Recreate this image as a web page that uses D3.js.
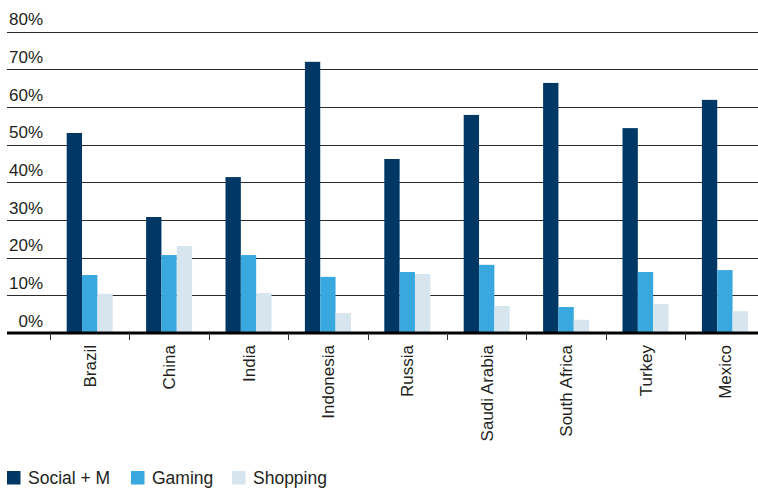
<!DOCTYPE html>
<html>
<head>
<meta charset="utf-8">
<script src="https://cdn.jsdelivr.net/npm/d3@7"></script>
<style>
  html, body { margin: 0; padding: 0; background: #fff; }
  svg { display: block; }
  text { font-family: "Liberation Sans", Arial, sans-serif; fill: #231f20; }
</style>
</head>
<body>
<svg id="chart" width="758" height="489"></svg>
<script>
const categories = ["Brazil", "China", "India", "Indonesia", "Russia", "Saudi Arabia", "South Africa", "Turkey", "Mexico"];
const seriesNames = ["Social + M", "Gaming", "Shopping"];
const socialValues = [53.1, 30.8, 41.4, 72.0, 46.2, 57.9, 66.4, 54.4, 61.9];
const gamingValues = [15.4, 20.7, 20.7, 14.9, 16.2, 18.1, 6.9, 16.2, 16.7];
const shoppingValues = [10.4, 23.1, 10.6, 5.3, 15.7, 7.2, 3.5, 7.7, 5.8];
const yTicks = [0, 10, 20, 30, 40, 50, 60, 70, 80];
const colors = ["#003865", "#38a8df", "#d7e5ef"];

const seriesValues = [socialValues, gamingValues, shoppingValues];
const data = categories.map((c, i) => ({ cat: c, vals: seriesValues.map((s, j) => ({ key: seriesNames[j], v: s[i] })) }));

const svg = d3.select("#chart");
const baseY = 333, topY = 31.7;
const gridLeft = 7, gridRight = 758;
const bandStart = 50, bandStep = 79.4;

const y = d3.scaleLinear().domain([0, 80]).range([baseY, topY]);
const x = d3.scaleBand().domain(categories)
  .range([bandStart, bandStart + bandStep * categories.length])
  .paddingInner(0).paddingOuter(0);
const groupW = 46;
const xs = d3.scaleBand().domain(seriesNames).range([0, groupW]).padding(0);

// gridlines
svg.append("g").selectAll("line").data(yTicks.filter(d => d > 0)).join("line")
  .attr("x1", gridLeft).attr("x2", gridRight)
  .attr("y1", d => Math.round(y(d)) + 0.5).attr("y2", d => Math.round(y(d)) + 0.5)
  .attr("stroke", "#2a2a2a").attr("stroke-width", 1.2);

// y labels
svg.append("g").selectAll("text").data(yTicks).join("text")
  .attr("x", 43).attr("y", d => y(d) - 6.5)
  .attr("text-anchor", "end")
  .style("font-size", "17px")
  .text(d => d + "%");

// bars
const groups = svg.append("g").selectAll("g").data(data).join("g")
  .attr("transform", d => `translate(${x(d.cat) + (x.bandwidth() - groupW) / 2},0)`);
groups.selectAll("rect").data(d => d.vals).join("rect")
  .attr("x", d => xs(d.key))
  .attr("width", xs.bandwidth())
  .attr("y", d => y(d.v))
  .attr("height", d => y(0) - y(d.v))
  .attr("fill", (d, i) => colors[i]);

// baseline
svg.append("line").attr("x1", gridLeft).attr("x2", gridRight)
  .attr("y1", baseY).attr("y2", baseY)
  .attr("stroke", "#000").attr("stroke-width", 3);

// ticks
const tickPos = d3.range(categories.length + 1).map(i => bandStart + bandStep * i);
svg.append("g").selectAll("line").data(tickPos).join("line")
  .attr("x1", d => Math.round(d) + 0.5).attr("x2", d => Math.round(d) + 0.5)
  .attr("y1", baseY).attr("y2", baseY + 7)
  .attr("stroke", "#333").attr("stroke-width", 1);

// category labels
svg.append("g").selectAll("text").data(categories).join("text")
  .attr("transform", d => `translate(${x(d) + x.bandwidth() / 2 + 6},345) rotate(-90)`)
  .attr("text-anchor", "end")
  .style("font-size", "17px")
  .text(d => d);

// legend
const legendX = [7, 131, 232];
const lg = svg.append("g").selectAll("g").data(seriesNames).join("g")
  .attr("transform", (d, i) => `translate(${legendX[i]},471)`);
lg.append("rect").attr("width", 13.5).attr("height", 13.5).attr("fill", (d, i) => colors[i]);
lg.append("text").attr("x", 21).attr("y", 13).style("font-size", "17.5px").text(d => d);
</script>
</body>
</html>
